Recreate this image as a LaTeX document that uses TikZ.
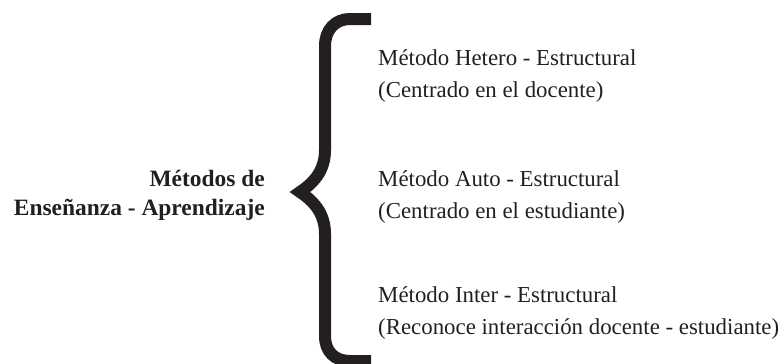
\documentclass[tikz,border=0pt]{standalone}
\usepackage{fontspec}
\setmainfont{Liberation Serif}
\usetikzlibrary{positioning}

\definecolor{ink}{HTML}{231F20}

\begin{document}
\begin{tikzpicture}[x=0.03cm, y=-0.03cm, line cap=butt,
	metodo/.style={anchor=base west, align=left, inner sep=0pt, text=ink,
		font=\fontsize{19.5}{26.6}\selectfont},
	titulo/.style={anchor=base east, align=right, inner sep=0pt, text=ink,
		font=\fontsize{20}{24}\selectfont\bfseries}]
	% -------- Tunables --------
	\def\bx{325}     % x of the brace stem
	\def\bw{12}      % brace thickness (px)
	
	\useasboundingbox (0,0) rectangle (782,364);
	
	% Title on the left (anchored on its last line)
	\node[titulo] (metodos) at (265,215) {Métodos de\\Enseñanza - Aprendizaje};
	
	% The big brace
	\draw[ink, line width=\bw*0.03cm, line join=miter, miter limit=20]
	(371,19) -- (350,19)
	.. controls (335,19) and (\bx,30) .. (\bx,46)
	-- (\bx,150)
	.. controls (\bx,172) and (312,184) .. (300,192)
	.. controls (312,200) and (\bx,212) .. (\bx,234)
	-- (\bx,336)
	.. controls (\bx,352) and (335,361) .. (350,361)
	-- (371,361);
	
	% Methods on the right
	\node[metodo] (hetero) at (378,97) {Método Hetero - Estructural\\(Centrado en el docente)};
	\node[metodo] (auto) at (378,218) {Método Auto - Estructural\\(Centrado en el estudiante)};
	\node[metodo] (inter) at (378,334) {Método Inter - Estructural\\(Reconoce interacción docente - estudiante)};
\end{tikzpicture}
\end{document}
